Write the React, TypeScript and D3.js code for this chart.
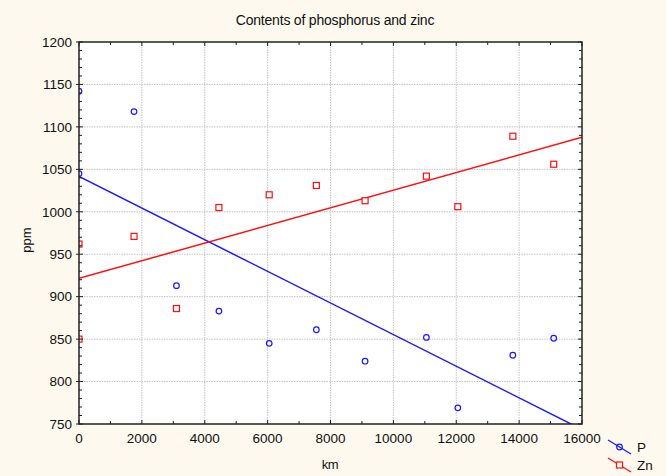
import React from "react";
import * as d3 from "d3";

// distance along the profile, km
const kmValues = [0, 0, 1750, 3100, 4450, 6050, 7550, 9100, 11050, 12050, 13800, 15100];
// phosphorus, ppm
const pValues = [1142, 1045, 1118, 913, 883, 845, 861, 824, 852, 769, 831, 851];
// zinc, ppm
const znValues = [962, 850, 971, 886, 1005, 1020, 1031, 1013, 1042, 1006, 1089, 1056];

const xTicks = [0, 2000, 4000, 6000, 8000, 10000, 12000, 14000, 16000];
const yTicks = [750, 800, 850, 900, 950, 1000, 1050, 1100, 1150, 1200];

const W = 666;
const H = 476;
const plot = { left: 79, right: 582, top: 42, bottom: 424 };
const font = "'Liberation Sans', Arial, sans-serif";
const BLUE = "#1a1aff";
const RED = "#ff1010";

// plain least squares fit
const fit = (xs: number[], ys: number[]) => {
  const mx = d3.mean(xs) as number;
  const my = d3.mean(ys) as number;
  let sxy = 0;
  let sxx = 0;
  xs.forEach((x, i) => {
    sxy += (x - mx) * (ys[i] - my);
    sxx += (x - mx) * (x - mx);
  });
  const b = sxy / sxx;
  return { a: my - b * mx, b };
};

const App = () => {
  const x = d3.scaleLinear().domain([0, 16000]).range([plot.left, plot.right]);
  const y = d3.scaleLinear().domain([750, 1200]).range([plot.bottom, plot.top]);

  const xMinor = d3.range(0, 16001, 1000);
  const yMinor = d3.range(750, 1201, 10);

  const series = [
    { name: "P", values: pValues, color: BLUE },
    { name: "Zn", values: znValues, color: RED },
  ];

  const line = d3
    .line<[number, number]>()
    .x((d) => x(d[0]))
    .y((d) => y(d[1]));

  return (
    <svg
      width={W}
      height={H}
      style={{ position: "absolute", left: 0, top: 0, display: "block" }}
      fontFamily={font}
    >
      <defs>
        <clipPath id="plotclip">
          <rect
            x={plot.left}
            y={plot.top}
            width={plot.right - plot.left}
            height={plot.bottom - plot.top}
          />
        </clipPath>
      </defs>
      <rect width={W} height={H} fill="#fdf9ee" />
      <rect
        x={plot.left}
        y={plot.top}
        width={plot.right - plot.left}
        height={plot.bottom - plot.top}
        fill="#ffffff"
      />

      {/* grid */}
      <g stroke="#c4c4c4" strokeWidth={1} strokeDasharray="1.5,1">
        {xTicks.slice(1, -1).map((t) => (
          <line key={"gx" + t} x1={x(t)} x2={x(t)} y1={plot.top} y2={plot.bottom} />
        ))}
        {yTicks.slice(1, -1).map((t) => (
          <line key={"gy" + t} x1={plot.left} x2={plot.right} y1={y(t)} y2={y(t)} />
        ))}
      </g>

      {/* fitted lines and points */}
      <g clipPath="url(#plotclip)">
        {series.map((s) => {
          const r = fit(kmValues, s.values);
          const pts: [number, number][] = [
            [0, r.a],
            [16000, r.a + r.b * 16000],
          ];
          return (
            <path
              key={"l" + s.name}
              d={line(pts) as string}
              fill="none"
              stroke={s.color}
              strokeWidth={1.5}
            />
          );
        })}
        {kmValues.map((k, i) => (
          <circle
            key={"p" + i}
            cx={x(k)}
            cy={y(pValues[i])}
            r={2.8}
            fill="none"
            stroke={BLUE}
            strokeWidth={1.2}
          />
        ))}
        {kmValues.map((k, i) => (
          <rect
            key={"z" + i}
            x={x(k) - 3}
            y={y(znValues[i]) - 3}
            width={6}
            height={6}
            fill="#fff"
            stroke={RED}
            strokeWidth={1.2}
          />
        ))}
      </g>

      {/* frame and ticks */}
      <g stroke="#222" strokeWidth={1}>
        {xMinor.map((t) => {
          const len = t % 2000 === 0 ? 4 : 3;
          return (
            <g key={"tx" + t}>
              <line x1={x(t)} x2={x(t)} y1={plot.bottom} y2={plot.bottom - len} />
              <line x1={x(t)} x2={x(t)} y1={plot.top} y2={plot.top + len} />
            </g>
          );
        })}
        {yMinor.map((t) => {
          const len = t % 50 === 0 ? 4 : 3;
          return (
            <g key={"ty" + t}>
              <line x1={plot.left - (t % 50 === 0 ? 3 : 0)} x2={plot.left + len} y1={y(t)} y2={y(t)} />
              <line x1={plot.right} x2={plot.right - len} y1={y(t)} y2={y(t)} />
            </g>
          );
        })}
      </g>
      <rect
        x={plot.left}
        y={plot.top}
        width={plot.right - plot.left}
        height={plot.bottom - plot.top}
        fill="none"
        stroke="#222"
        strokeWidth={1.5}
      />

      {/* tick labels */}
      <g fontSize={13.5} fill="#111">
        {xTicks.map((t) => (
          <text key={"lx" + t} x={x(t)} y={plot.bottom + 19} textAnchor="middle">
            {t}
          </text>
        ))}
        {yTicks.map((t) => (
          <text key={"ly" + t} x={plot.left - 7} y={y(t)} dy="0.35em" textAnchor="end">
            {t}
          </text>
        ))}
      </g>

      {/* titles */}
      <text x={335} y={25} textAnchor="middle" fontSize={14} letterSpacing={-0.2} fill="#111">
        Contents of phosphorus and zinc
      </text>
      <text x={330} y={469} textAnchor="middle" fontSize={13} letterSpacing={-0.3} fill="#111">
        km
      </text>
      <text
        transform="translate(31,240) rotate(-90)"
        textAnchor="middle"
        fontSize={13}
        fill="#111"
      >
        ppm
      </text>

      {/* legend */}
      {series.map((s, i) => {
        const ly = 447 + i * 18;
        return (
          <g key={"lg" + s.name}>
            <line x1={608} x2={631} y1={ly - 7} y2={ly + 7} stroke={s.color} strokeWidth={1.3} />
            {s.name === "P" ? (
              <circle cx={619.5} cy={ly} r={2.8} fill="none" stroke={s.color} strokeWidth={1.2} />
            ) : (
              <rect x={616.5} y={ly - 3} width={6} height={6} fill="#fff" stroke={s.color} strokeWidth={1.2} />
            )}
            <text x={637} y={ly + 5} fontSize={13.5} fill="#111">
              {s.name}
            </text>
          </g>
        );
      })}
    </svg>
  );
};

export default App;
